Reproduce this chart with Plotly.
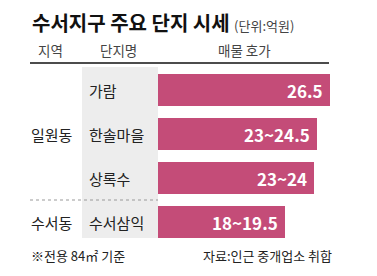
import plotly.graph_objects as go

W, H = 377, 276
FONT = "Noto Sans CJK KR"

regions = ["일원동", "일원동", "일원동", "수서동"]
complexes = ["가람", "한솔마을", "상록수", "수서삼익"]
price_low = [26.5, 23, 23, 18]
price_high = [26.5, 24.5, 24, 19.5]
price_labels = ["26.5", "23~24.5", "23~24", "18~19.5"]
headers = ["지역", "단지명", "매물 호가"]

BAR = "#C44C78"
GRAY = "#EDEDED"

# pixel -> axis mapping
x0_px, px_per_unit = 158, 6.49
y0_px, row_px = 90, 44

def px(x):
    return x / W

def py(y):
    return 1 - y / H

idx = list(range(len(complexes)))

fig = go.Figure()
fig.add_trace(go.Bar(
    x=price_high, y=idx, orientation="h",
    marker=dict(color=BAR, line=dict(width=0)),
    width=32 / row_px, hoverinfo="skip",
))

shapes = [
    dict(type="rect", xref="paper", yref="paper", x0=px(82), x1=px(158),
         y0=py(238), y1=py(67), fillcolor=GRAY, line=dict(width=0), layer="below"),
    dict(type="line", xref="paper", yref="paper", x0=px(30), x1=px(329),
         y0=py(63), y1=py(63), line=dict(color="#111", width=1.5)),
    dict(type="line", xref="paper", yref="paper", x0=px(30), x1=px(158),
         y0=py(200), y1=py(200), line=dict(color="#999", width=1, dash="dot")),
]

ann = []
ann.append(dict(xref="paper", yref="paper", x=px(30), y=py(22), xanchor="left", yanchor="middle",
                text="<b>수서지구 주요 단지 시세</b> <span style='font-size:13px;color:#444'>(단위:억원)</span>",
                showarrow=False, font=dict(family=FONT, size=20, color="#111")))
for h, xc in zip(headers, [50, 118, 244]):
    ann.append(dict(xref="paper", yref="paper", x=px(xc), y=py(50), xanchor="center", yanchor="middle",
                    text=h, showarrow=False, font=dict(family=FONT, size=13.5, color="#444")))
for i, c in enumerate(complexes):
    ann.append(dict(xref="paper", yref="y", x=px(87), y=i, xanchor="left", yanchor="middle",
                    text=c, showarrow=False, font=dict(family=FONT, size=15, color="#222")))
# region labels centred on their group rows
groups = {}
for i, r in enumerate(regions):
    groups.setdefault(r, []).append(i)
for r, rows in groups.items():
    ann.append(dict(xref="paper", yref="y", x=px(29), y=sum(rows) / len(rows), xanchor="left",
                    yanchor="middle", text=r, showarrow=False,
                    font=dict(family=FONT, size=15, color="#222")))
for i, (v, t) in enumerate(zip(price_high, price_labels)):
    ann.append(dict(xref="x", yref="y", x=v, y=i, xanchor="right", yanchor="middle", xshift=-5,
                    text="<b>" + t + "</b>", showarrow=False,
                    font=dict(family=FONT, size=17, color="white")))
ann.append(dict(xref="paper", yref="paper", x=px(29), y=py(255), xanchor="left", yanchor="middle",
                text="※전용 84㎡ 기준", showarrow=False, font=dict(family=FONT, size=13, color="#222")))
ann.append(dict(xref="paper", yref="paper", x=px(201), y=py(255), xanchor="left", yanchor="middle",
                text="자료:인근 중개업소 취합", showarrow=False, font=dict(family=FONT, size=13, color="#222")))

fig.update_layout(
    width=W, height=H, margin=dict(l=0, r=0, t=0, b=0),
    paper_bgcolor="white", plot_bgcolor="rgba(0,0,0,0)",
    showlegend=False, shapes=shapes, annotations=ann,
    xaxis=dict(range=[-x0_px / px_per_unit, (W - x0_px) / px_per_unit], visible=False, fixedrange=True),
    yaxis=dict(range=[(H - y0_px) / row_px, -y0_px / row_px], visible=False, fixedrange=True),
    bargap=0,
)
fig.write_html("out.html")
